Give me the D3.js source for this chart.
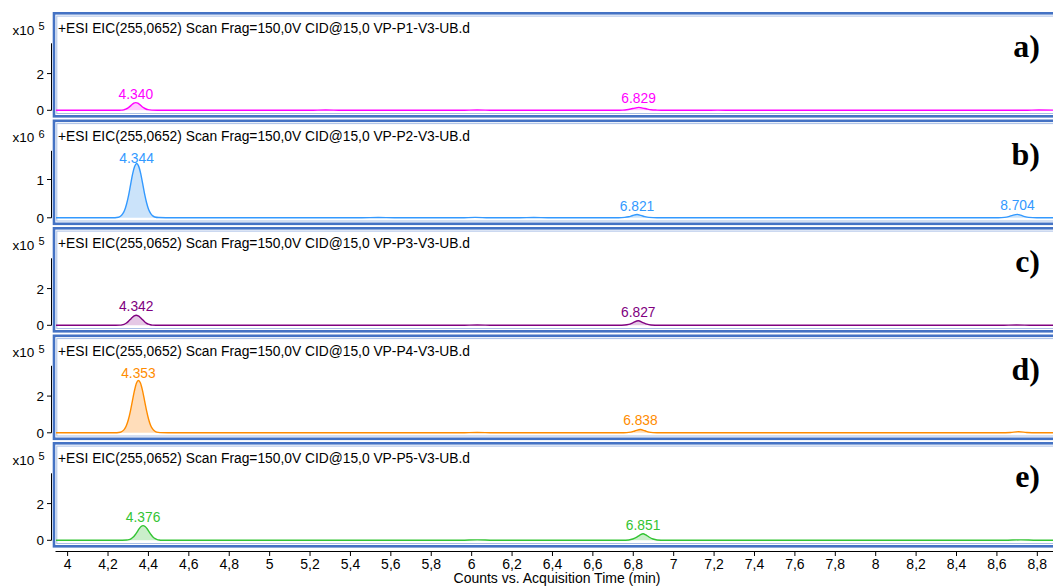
<!DOCTYPE html>
<html>
<head>
<meta charset="utf-8">
<script src="https://cdn.jsdelivr.net/npm/d3@7"></script>
<style>
  body { margin: 0; background: #fff; }
  svg { display: block; font-family: "Liberation Sans", Arial, sans-serif; }
</style>
</head>
<body>
<svg id="chart" width="1053" height="587"></svg>
<script>
// panel info
const panelIds = ["a)", "b)", "c)", "d)", "e)"];
const sampleNames = ["VP-P1-V3-UB.d", "VP-P2-V3-UB.d", "VP-P3-V3-UB.d", "VP-P4-V3-UB.d", "VP-P5-V3-UB.d"];
const exponents = [5, 6, 5, 5, 5];
const yMaxes = [3.65, 1.75, 3.65, 3.65, 3.65];
const yTicks = [[0, 2], [0, 1], [0, 2], [0, 2], [0, 2]];
const xTickVals = [4, 4.2, 4.4, 4.6, 4.8, 5, 5.2, 5.4, 5.6, 5.8, 6, 6.2, 6.4, 6.6, 6.8, 7, 7.2, 7.4, 7.6, 7.8, 8, 8.2, 8.4, 8.6, 8.8];
const xTickLabels = ["4", "4,2", "4,4", "4,6", "4,8", "5", "5,2", "5,4", "5,6", "5,8", "6", "6,2", "6,4", "6,6", "6,8", "7", "7,2", "7,4", "7,6", "7,8", "8", "8,2", "8,4", "8,6", "8,8"];

// traces: [time (min), counts / 10^exp]
const traceA = [[3.94, 0], [4.24, 0], [4.26, 0.003], [4.27, 0.01], [4.28, 0.025], [4.29, 0.06], [4.30, 0.12], [4.31, 0.2], [4.32, 0.3], [4.33, 0.39], [4.34, 0.42], [4.35, 0.39], [4.36, 0.31], [4.37, 0.21], [4.38, 0.13], [4.39, 0.07], [4.40, 0.035], [4.42, 0.012], [4.45, 0.004], [4.5, 0],
  [5.2, 0], [5.28, 0.02], [5.36, 0], [5.95, 0], [6.03, 0.02], [6.11, 0],
  [6.72, 0], [6.75, 0.01], [6.77, 0.03], [6.79, 0.07], [6.81, 0.12], [6.83, 0.16], [6.85, 0.12], [6.87, 0.07], [6.89, 0.03], [6.92, 0.01], [6.96, 0],
  [7.15, 0], [7.22, 0.01], [7.3, 0], [8.74, 0], [8.81, 0.02], [8.89, 0.01]];
const traceB = [[3.94, 0], [4.22, 0], [4.254, 0.016], [4.264, 0.041], [4.274, 0.094], [4.284, 0.19], [4.294, 0.355], [4.304, 0.58], [4.314, 0.86], [4.324, 1.14], [4.334, 1.34], [4.344, 1.42], [4.354, 1.35], [4.364, 1.16], [4.374, 0.89], [4.384, 0.61], [4.394, 0.38], [4.404, 0.21], [4.414, 0.11], [4.424, 0.05], [4.434, 0.022], [4.454, 0.007], [4.494, 0.002], [4.544, 0],
  [5.46, 0], [5.54, 0.008], [5.62, 0], [5.95, 0], [6.02, 0.01], [6.09, 0], [6.24, 0], [6.31, 0.007], [6.38, 0],
  [6.73, 0], [6.76, 0.01], [6.78, 0.028], [6.80, 0.06], [6.821, 0.085], [6.84, 0.062], [6.86, 0.03], [6.88, 0.01], [6.92, 0],
  [8.61, 0], [8.64, 0.01], [8.66, 0.03], [8.68, 0.065], [8.704, 0.09], [8.72, 0.068], [8.74, 0.032], [8.76, 0.01], [8.80, 0], [8.89, 0]];
const traceC = [[3.94, 0], [4.22, 0], [4.262, 0.009], [4.272, 0.024], [4.282, 0.055], [4.292, 0.11], [4.302, 0.2], [4.312, 0.31], [4.322, 0.42], [4.332, 0.51], [4.342, 0.545], [4.352, 0.51], [4.362, 0.43], [4.372, 0.32], [4.382, 0.21], [4.392, 0.12], [4.402, 0.06], [4.412, 0.028], [4.422, 0.012], [4.44, 0.004], [4.5, 0],
  [5.95, 0], [6.03, 0.02], [6.11, 0],
  [6.73, 0], [6.76, 0.015], [6.78, 0.05], [6.80, 0.13], [6.827, 0.25], [6.85, 0.15], [6.87, 0.06], [6.89, 0.02], [6.93, 0],
  [8.62, 0], [8.7, 0.02], [8.78, 0], [8.89, 0]];
const traceD = [[3.94, 0], [4.23, 0], [4.263, 0.031], [4.273, 0.083], [4.283, 0.19], [4.293, 0.385], [4.303, 0.71], [4.313, 1.17], [4.323, 1.73], [4.333, 2.28], [4.343, 2.7], [4.353, 2.85], [4.363, 2.71], [4.373, 2.31], [4.383, 1.77], [4.393, 1.22], [4.403, 0.75], [4.413, 0.41], [4.423, 0.21], [4.433, 0.095], [4.443, 0.04], [4.46, 0.012], [4.5, 0.003], [4.56, 0],
  [5.95, 0], [6.03, 0.02], [6.11, 0],
  [6.74, 0], [6.77, 0.01], [6.79, 0.04], [6.81, 0.1], [6.838, 0.18], [6.86, 0.11], [6.88, 0.04], [6.90, 0.012], [6.94, 0],
  [8.62, 0], [8.67, 0.02], [8.71, 0.06], [8.75, 0.02], [8.80, 0], [8.89, 0]];
const traceE = [[3.94, 0], [4.25, 0], [4.296, 0.014], [4.306, 0.035], [4.316, 0.08], [4.326, 0.16], [4.336, 0.29], [4.346, 0.45], [4.356, 0.62], [4.366, 0.75], [4.376, 0.8], [4.386, 0.75], [4.396, 0.63], [4.406, 0.46], [4.416, 0.3], [4.426, 0.17], [4.436, 0.09], [4.446, 0.04], [4.456, 0.017], [4.47, 0.006], [4.52, 0],
  [5.95, 0], [6.03, 0.025], [6.11, 0],
  [6.75, 0], [6.78, 0.02], [6.80, 0.07], [6.82, 0.17], [6.835, 0.28], [6.851, 0.36], [6.865, 0.29], [6.88, 0.18], [6.90, 0.07], [6.92, 0.02], [6.96, 0],
  [8.64, 0], [8.72, 0.025], [8.80, 0], [8.89, 0]];

// labelled peaks: [retention time, apex height]
const peaksA = [[4.340, 0.42], [6.829, 0.16]];
const peaksB = [[4.344, 1.42], [6.821, 0.085], [8.704, 0.09]];
const peaksC = [[4.342, 0.545], [6.827, 0.25]];
const peaksD = [[4.353, 2.85], [6.838, 0.18]];
const peaksE = [[4.376, 0.8], [6.851, 0.36]];

// integrated (shaded) ranges
const fillsA = [[4.24, 4.5], [6.72, 6.96]];
const fillsB = [[4.22, 4.544], [6.73, 6.92], [8.61, 8.80]];
const fillsC = [[4.22, 4.5], [6.73, 6.93]];
const fillsD = [[4.23, 4.56], [6.74, 6.94]];
const fillsE = [[4.25, 4.52], [6.75, 6.96]];

const lineColors = ["#ff00ff", "#3399ff", "#800080", "#ff8c00", "#33c433"];
const fillColors = ["#ffb8ff", "#b9d9f8", "#dcb6dc", "#ffd2a3", "#b8e8b8"];

const traces = [traceA, traceB, traceC, traceD, traceE];
const peaks = [peaksA, peaksB, peaksC, peaksD, peaksE];
const fills = [fillsA, fillsB, fillsC, fillsD, fillsE];

const svg = d3.select('#chart');
const x = d3.scaleLinear().domain([3.94, 8.89]).range([55, 1055]);
const panelTop0 = 13.3, panelStep = 107.5, panelH = 103;
const zeroOff = 97, plotTopOff = 30;

const defs = svg.append('defs');

panelIds.forEach((id, i) => {
  let top = panelTop0 + i * panelStep;
  let g = svg.append('g').attr('transform', 'translate(0,' + top + ')');
  let y = d3.scaleLinear().domain([0, yMaxes[i]]).range([zeroOff, plotTopOff]);

  defs.append('clipPath').attr('id', 'clip' + i)
    .append('rect').attr('x', 56).attr('y', 3).attr('width', 1000).attr('height', panelH - 5);

  // panel frame (double blue line)
  g.append('rect')
    .attr('x', 54).attr('y', 0).attr('width', 1010).attr('height', panelH)
    .attr('fill', 'none').attr('stroke', '#4472c4').attr('stroke-width', 2.6);
  g.append('rect')
    .attr('x', 56.8).attr('y', 2.8).attr('width', 1010).attr('height', panelH - 5.6)
    .attr('fill', 'none').attr('stroke', '#a9bfe6').attr('stroke-width', 1);

  g.append('text')
    .attr('x', 58).attr('y', 20)
    .attr('font-size', 13.8)
    .attr('fill', '#000')
    .text('+ESI EIC(255,0652) Scan Frag=150,0V CID@15,0 ' + sampleNames[i]);

  // exponent
  g.append('text').attr('x', 12.5).attr('y', 21.5).attr('font-size', 13.5).text('x10');
  g.append('text').attr('x', 38.5).attr('y', 17).attr('font-size', 11).text(exponents[i]);

  // y axis
  g.append('line')
    .attr('x1', 51.5).attr('x2', 51.5)
    .attr('y1', plotTopOff).attr('y2', zeroOff)
    .attr('stroke', '#000').attr('stroke-width', 1);
  yTicks[i].forEach(t => {
    g.append('line')
      .attr('x1', 47).attr('x2', 51.5)
      .attr('y1', y(t)).attr('y2', y(t))
      .attr('stroke', '#000');
    g.append('text')
      .attr('x', 44).attr('y', y(t) + 5)
      .attr('text-anchor', 'end')
      .attr('font-size', 13.5)
      .text(t);
  });

  let plot = g.append('g').attr('clip-path', 'url(#clip' + i + ')');

  let area = d3.area()
    .x(d => x(d[0]))
    .y0(y(0))
    .y1(d => y(d[1]))
    .curve(d3.curveMonotoneX);
  fills[i].forEach(r => {
    let pts = traces[i].filter(d => d[0] >= r[0] && d[0] <= r[1]);
    plot.append('path')
      .datum(pts)
      .attr('fill', fillColors[i])
      .attr('fill-opacity', 0.75)
      .attr('d', area);
  });

  let line = d3.line()
    .x(d => x(d[0]))
    .y(d => y(d[1]))
    .curve(d3.curveMonotoneX);
  plot.append('path')
    .datum(traces[i])
    .attr('fill', 'none')
    .attr('stroke', lineColors[i])
    .attr('stroke-width', 1.4)
    .attr('stroke-linejoin', 'round')
    .attr('d', line);

  peaks[i].forEach(p => {
    g.append('text')
      .attr('x', x(p[0]))
      .attr('y', Math.max(y(p[1]) - 4, plotTopOff + 12))
      .attr('text-anchor', 'middle')
      .attr('font-size', 13.8)
      .attr('fill', lineColors[i])
      .text(p[0].toFixed(3));
  });

  g.append('text')
    .attr('x', 1040).attr('y', 44)
    .attr('text-anchor', 'end')
    .attr('font-family', '"Liberation Serif", "Times New Roman", serif')
    .attr('font-weight', 'bold')
    .attr('font-size', 32)
    .text(id);
});

// x axis
let xAxis = svg.append('g')
  .attr('transform', 'translate(0,551)')
  .call(d3.axisBottom(x)
    .tickValues(xTickVals)
    .tickSize(5)
    .tickSizeOuter(0)
    .tickFormat((d, i) => xTickLabels[i]));
xAxis.selectAll('text')
  .attr('font-size', 14)
  .attr('font-family', '"Liberation Sans", Arial, sans-serif')
  .attr('fill', '#000');

svg.append('text')
  .attr('x', 557).attr('y', 583)
  .attr('text-anchor', 'middle')
  .attr('font-size', 14)
  .text('Counts vs. Acquisition Time (min)');
</script>
</body>
</html>
